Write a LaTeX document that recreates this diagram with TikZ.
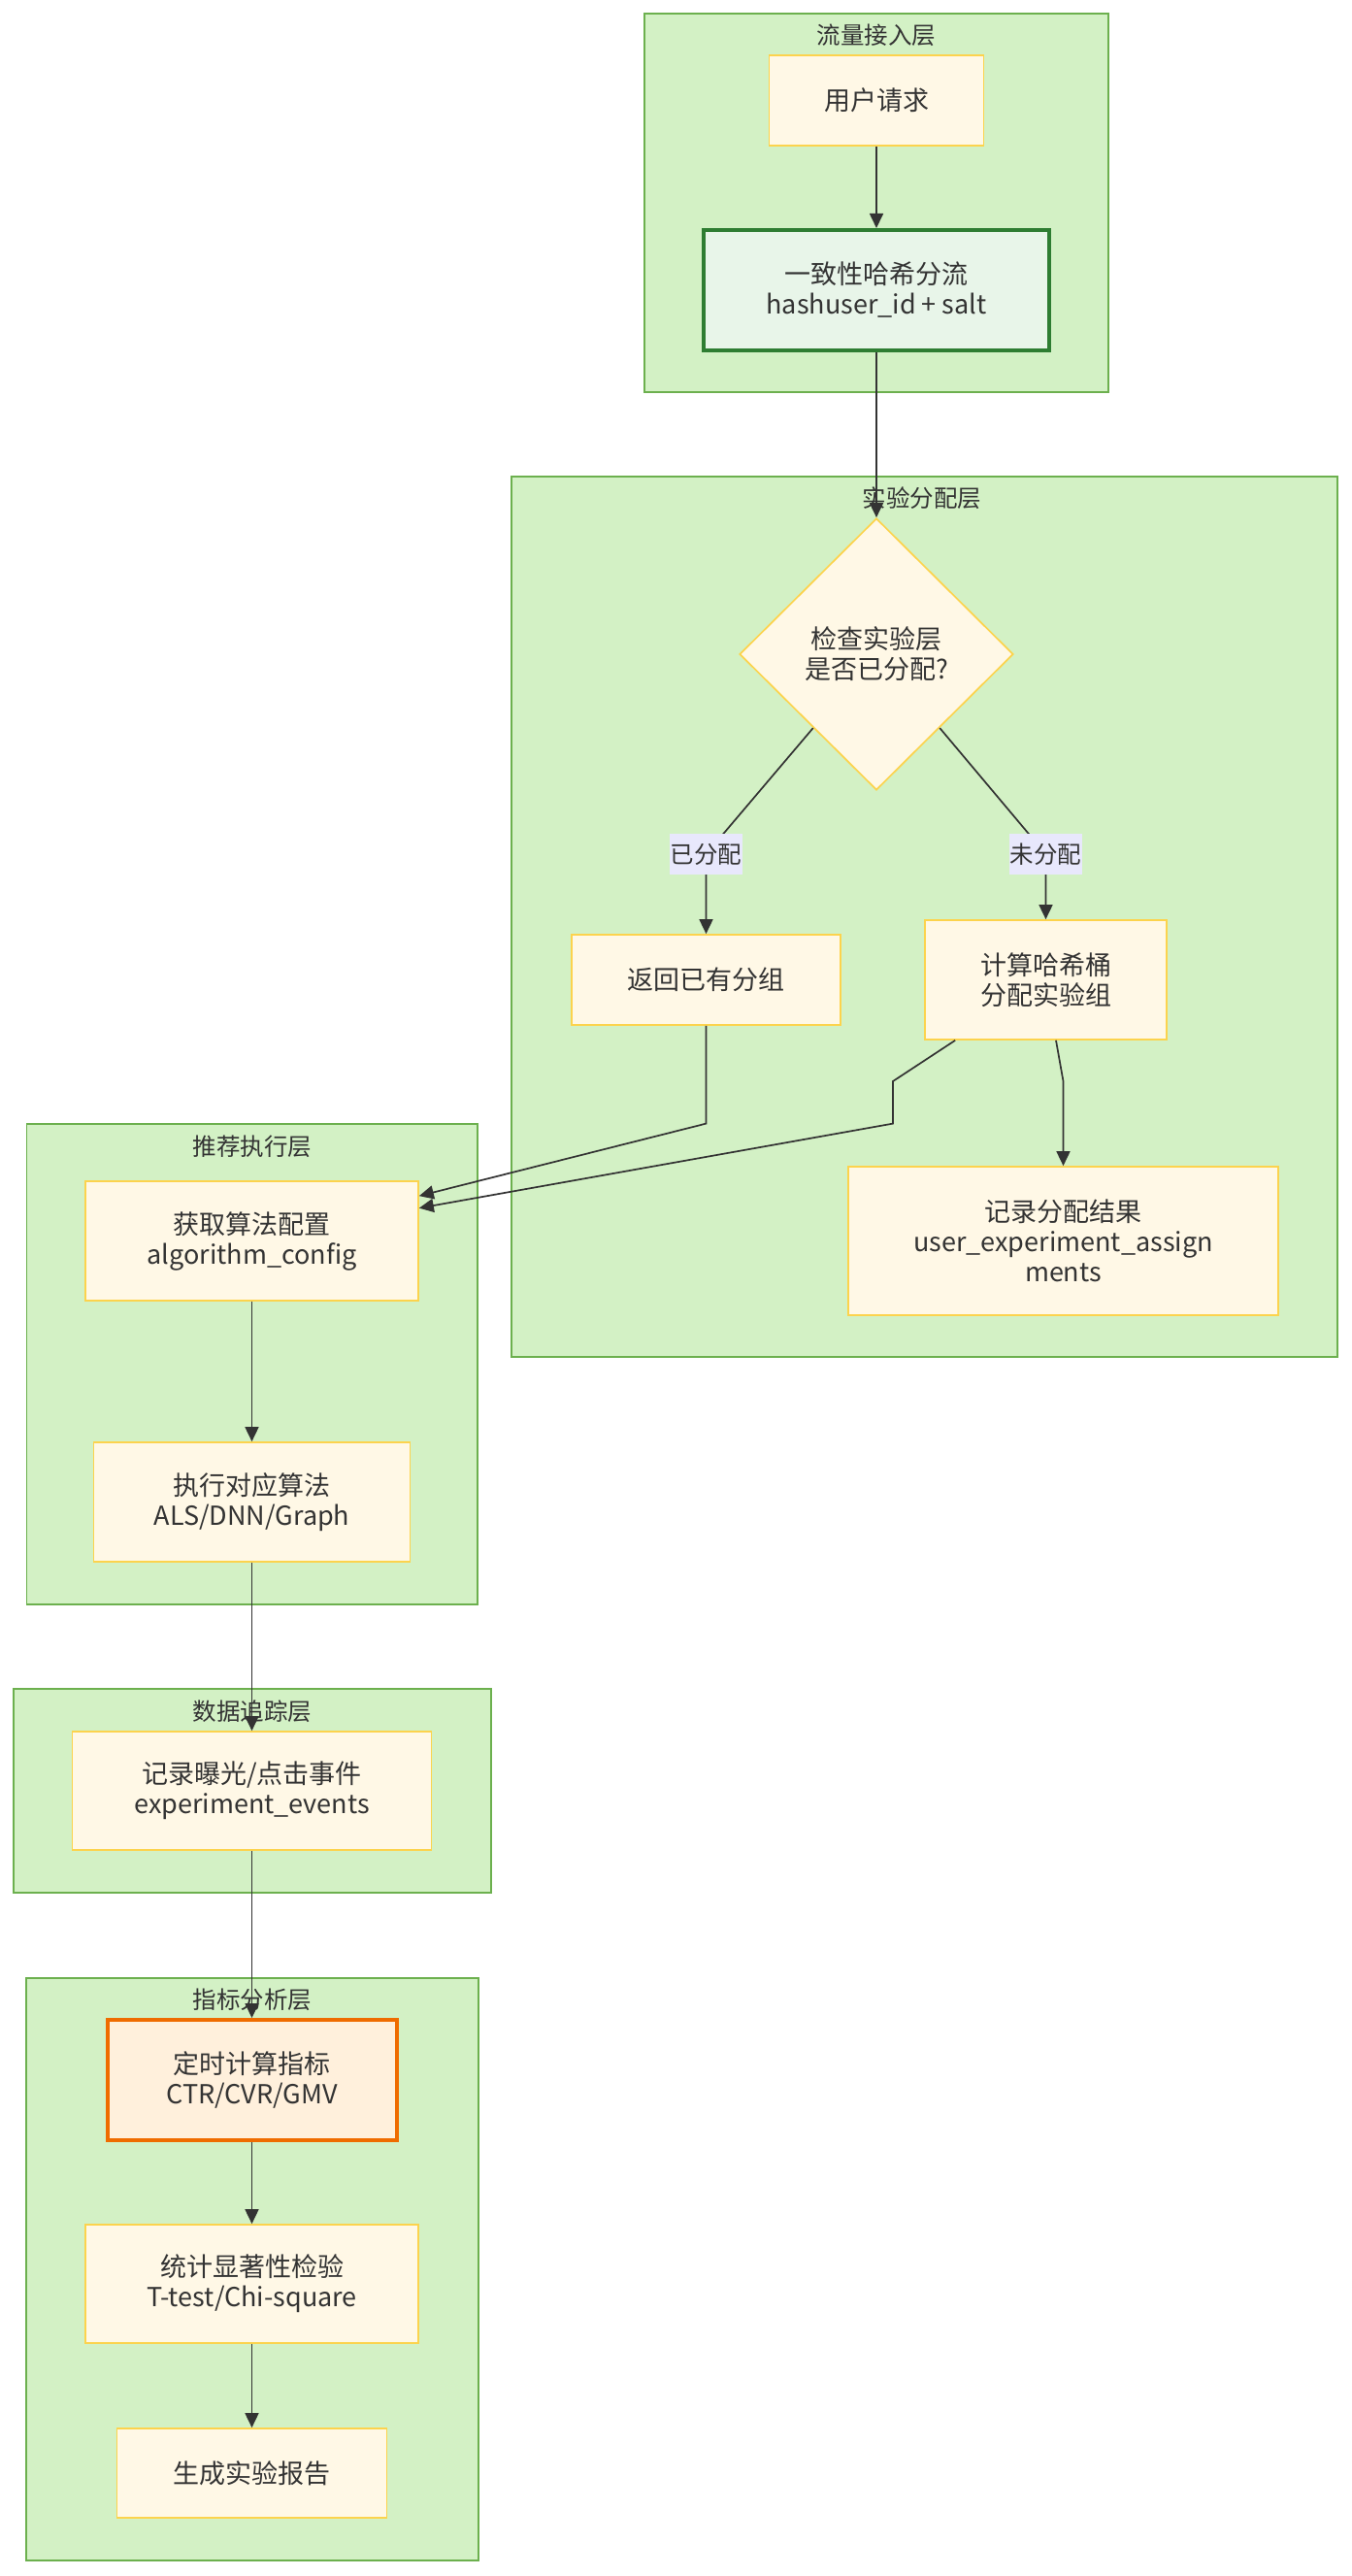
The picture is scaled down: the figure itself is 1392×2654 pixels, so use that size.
\documentclass[tikz,border=0pt]{standalone}
\usepackage{fontspec}
\setmainfont{Noto Sans CJK SC}
\usetikzlibrary{shapes.geometric,arrows.meta,calc}
\definecolor{txt}{HTML}{333333}
\definecolor{clfill}{RGB}{211,241,197}
\definecolor{cldraw}{RGB}{108,176,78}
\definecolor{ndfill}{RGB}{255,248,230}
\definecolor{nddraw}{RGB}{252,211,77}
\definecolor{hsfill}{HTML}{E8F5E9}
\definecolor{hsdraw}{HTML}{2E7D32}
\definecolor{mtfill}{HTML}{FFF0DC}
\definecolor{mtdraw}{HTML}{EF6C00}
\definecolor{lblfill}{RGB}{232,232,252}
\begin{document}
\begin{tikzpicture}[x=1pt,y=-1pt,
 cluster/.style={draw=cldraw,fill=clfill,line width=1.7pt},
 cltitle/.style={text=txt,font=\fontsize{24.5}{28}\selectfont,inner sep=0},
 box/.style={rectangle,draw=nddraw,fill=ndfill,line width=1.7pt,text=txt,align=center,inner sep=0,font=\fontsize{27}{31}\selectfont},
 hashbox/.style={box,draw=hsdraw,fill=hsfill,line width=4pt},
 metbox/.style={box,draw=mtdraw,fill=mtfill,line width=4pt},
 dec/.style={diamond,aspect=1,draw=nddraw,fill=ndfill,line width=1.7pt,text=txt,align=center,inner sep=0,font=\fontsize{27}{31}\selectfont,minimum width=282pt,minimum height=280pt},
 elabel/.style={fill=lblfill,text=txt,inner sep=0,minimum width=75pt,minimum height=42pt,font=\fontsize{24.5}{28}\selectfont},
 flow/.style={draw=txt,line width=1.7pt,-{Triangle[length=15pt,width=14pt]}},
]
\fill[white] (0,0) rectangle (1392,2654);

% clusters
\draw[cluster] (664,14) rectangle (1142,404);
\node[cltitle] (t1) at (903,36) {流量接入层};
\draw[cluster] (527,491) rectangle (1378,1398);
\node[cltitle] (t2) at (950,513) {实验分配层};
\draw[cluster] (27.6,1158) rectangle (492,1653);
\node[cltitle] (t3) at (260,1181) {推荐执行层};
\draw[cluster] (14,1740) rectangle (506,1950);
\node[cltitle] (t4) at (260,1763) {数据追踪层};
\draw[cluster] (27,2038) rectangle (493,2638);
\node[cltitle] (t5) at (260,2060) {指标分析层};

% nodes
\node[box,minimum width=221pt,minimum height=93pt] (n1) at (903,103.5) {用户请求};
\node[hashbox,minimum width=356pt,minimum height=124pt] (n2) at (903,299) {一致性哈希分流\\hashuser\_id + salt};
\node[dec] (dia) at (903,674) {检查实验层\\是否已分配?};
\node[box,minimum width=277pt,minimum height=93pt] (n4) at (727.5,1009.5) {返回已有分组};
\node[box,minimum width=249pt,minimum height=123pt] (n5) at (1077.5,1009.5) {计算哈希桶\\分配实验组};
\node[box,minimum width=443pt,minimum height=153pt] (n6) at (1095.5,1278.5) {记录分配结果\\user\_experiment\_assign\\ments};
\node[box,minimum width=343pt,minimum height=123pt] (n7) at (259.5,1278.5) {获取算法配置\\algorithm\_config};
\node[box,minimum width=326pt,minimum height=123pt] (n8) at (259.5,1547.5) {执行对应算法\\ALS/DNN/Graph};
\node[box,minimum width=370pt,minimum height=122pt] (n9) at (259.5,1845) {记录曝光/点击事件\\experiment\_events};
\node[metbox,minimum width=298pt,minimum height=124pt] (n10) at (259.5,2143) {定时计算指标\\CTR/CVR/GMV};
\node[box,minimum width=343pt,minimum height=122pt] (n11) at (259.5,2353) {统计显著性检验\\T-test/Chi-square};
\node[box,minimum width=278pt,minimum height=92pt] (n12) at (259.5,2548) {生成实验报告};

% helper coordinates
\coordinate (c1) at (727.5,880);
\coordinate (c2) at (1077.5,880);
\coordinate (b1) at (727.5,1157.6);
\coordinate (b2) at (920,1114);
\coordinate (b3) at (920,1157.6);
\coordinate (b4) at (1095.5,1114);

% edges
\draw[flow] (n1.south) -- (n2.north);
\draw[flow] (n2.south) -- (dia.north);
\draw[flow] ($(dia.south)!0.46!(dia.west)$) -- (c1) -- (c1 |- n4.north);
\draw[flow] ($(dia.south)!0.46!(dia.east)$) -- (c2) -- (c2 |- n5.north);
\draw[flow] (n4.south) -- (b1) -- ($(n7.north east)+(0,16)$);
\draw[flow] ($(n5.south west)+(32,0)$) -- (b2) -- (b3) -- ($(n7.north east)+(0,28.5)$);
\draw[flow] ($(n5.south)+(10.5,0)$) -- (b4) -- (n6.north);
\draw[flow] (n7.south) -- (n8.north);
\draw[flow] (n8.south) -- (n9.north);
\draw[flow] (n9.south) -- (n10.north);
\draw[flow] (n10.south) -- (n11.north);
\draw[flow] (n11.south) -- (n12.north);

% edge labels
\node[elabel] (L1) at (c1) {已分配};
\node[elabel] (L2) at (c2) {未分配};
\end{tikzpicture}
\end{document}
